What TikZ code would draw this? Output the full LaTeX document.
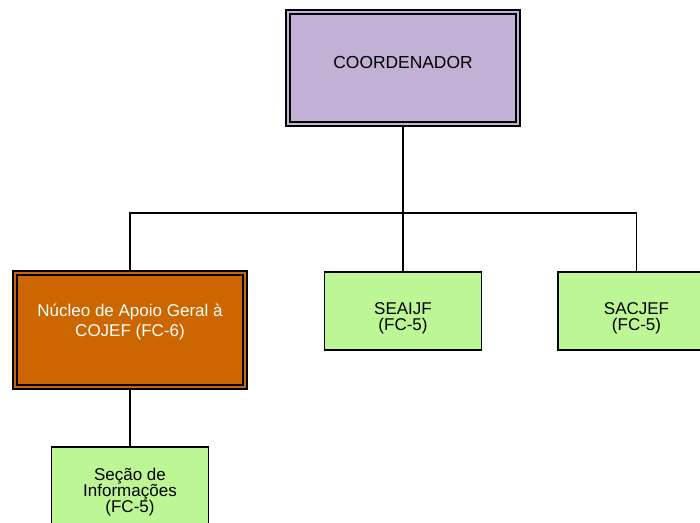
\documentclass[tikz,border=0pt]{standalone}
\usepackage{fontspec}
\setmainfont{Liberation Sans}
\usetikzlibrary{positioning}

\definecolor{coordfill}{RGB}{192,177,213}
\definecolor{nucleofill}{RGB}{204,102,0}
\definecolor{secaofill}{RGB}{189,246,148}

\tikzset{
  chefia/.style={draw, line width=1.2pt, double distance=2.8pt, inner sep=0pt,
    minimum width=230pt, align=center},
  secao/.style={draw, line width=1.2pt, fill=secaofill, inner sep=0pt,
    minimum width=157pt, minimum height=78pt, align=center, text depth=3.6pt,
    font=\fontsize{17}{16}\selectfont},
  ligacao/.style={line width=1.3pt}
}

\begin{document}
\begin{tikzpicture}[x=1pt, y=-1pt]
    \clip (0,0) rectangle (700,522);
    % chefias
    \node[chefia, fill=coordfill, double=coordfill, minimum height=112pt,
      text depth=11pt, font=\fontsize{17.4}{20}\selectfont] (coord) at (403,68) {COORDENADOR};
    \node[chefia, fill=nucleofill, double=nucleofill, minimum height=114pt,
      text=white, text height=33pt, text depth=21pt, font=\fontsize{17}{20}\selectfont]
      (nucleo) at (130,330) {N\'ucleo de Apoio Geral \`a\\COJEF (FC-6)};
    % secoes
    \node[secao, text height=41.6pt] (seaijf) at (403,311) {SEAIJF\\(FC-5)};
    \node[secao, text height=41.6pt] (sacjef) at (636.5,311) {SACJEF\\(FC-5)};
    \node[secao, text height=55.6pt] (info) at (130,486) {Se\c{c}\~ao de\\Informa\c{c}\~oes\\(FC-5)};
    % ligacoes
    \coordinate (barra) at (403,213);
    \draw[ligacao] (coord.south) -- (seaijf.north);
    \draw[ligacao] (nucleo.north) |- (barra) -| (sacjef.north);
    \draw[ligacao] (nucleo.south) -- (info.north);
\end{tikzpicture}
\end{document}
